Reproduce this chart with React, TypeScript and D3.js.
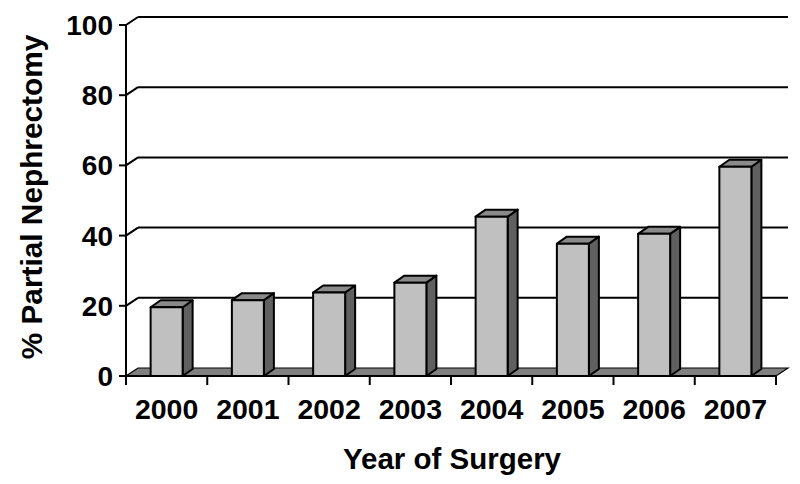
import React from "react";
import * as d3 from "d3";

const years = ["2000", "2001", "2002", "2003", "2004", "2005", "2006", "2007"];
const values = [19.6, 21.6, 23.8, 26.6, 45.4, 37.7, 40.5, 59.6];
const yTicks = [0, 20, 40, 60, 80, 100];

const W = 800;
const H = 484;
const left = 126;
const right = 776;
const top = 25;
const bottom = 376;
const wallDx = 12;
const wallDy = 8;
const barDx = 10;
const barDy = 7;
const barW = 32;
const FONT = "'Liberation Sans', Arial, sans-serif";
const LW = 2;

export default function App() {
  const x = d3.scaleBand<string>().domain(years).range([left, right]).padding(0);
  const y = d3.scaleLinear().domain([0, 100]).range([bottom, top]);
  const bw = x.bandwidth();

  return (
    <svg width={W} height={H} style={{ position: "absolute", left: 0, top: 0, background: "#fff" }}>
      {/* back wall gridlines */}
      {yTicks.filter((t) => t > 0).map((t) => (
        <g key={"g" + t}>
          <line x1={left + wallDx} x2={right + wallDx} y1={y(t) - wallDy} y2={y(t) - wallDy} stroke="#000" strokeWidth={LW} />
          <line x1={left} x2={left + wallDx} y1={y(t)} y2={y(t) - wallDy} stroke="#000" strokeWidth={LW} />
        </g>
      ))}
      {/* floor */}
      <polygon
        points={`${left},${bottom} ${right},${bottom} ${right + wallDx},${bottom - wallDy} ${left + wallDx},${bottom - wallDy}`}
        fill="#808080"
        stroke="#000"
        strokeWidth={1.2}
      />
      {/* y axis */}
      <line x1={left} x2={left} y1={y(100)} y2={y(0)} stroke="#000" strokeWidth={LW} />
      {yTicks.map((t) => (
        <g key={"t" + t}>
          <line x1={left - 7} x2={left} y1={y(t)} y2={y(t)} stroke="#000" strokeWidth={LW} />
          <text x={113} y={y(t) + 10} textAnchor="end" fontFamily={FONT} fontWeight="bold" fontSize={28} fill="#000">
            {t}
          </text>
        </g>
      ))}
      {/* x axis */}
      <line x1={left} x2={right} y1={bottom} y2={bottom} stroke="#000" strokeWidth={LW} />
      {d3.range(years.length + 1).map((i) => (
        <line key={"xt" + i} x1={left + i * bw} x2={left + i * bw} y1={bottom} y2={bottom + 9} stroke="#000" strokeWidth={LW} />
      ))}
      {/* bars */}
      {years.map((yr, i) => {
        const cx = (x(yr) as number) + bw / 2;
        const x0 = cx - barW / 2;
        const x1 = cx + barW / 2;
        const yt = y(values[i]);
        const y0 = y(0);
        return (
          <g key={yr} stroke="#000" strokeWidth={LW} strokeLinejoin="round">
            <polygon points={`${x1},${yt} ${x1 + barDx},${yt - barDy} ${x1 + barDx},${y0 - barDy} ${x1},${y0}`} fill="#606060" />
            <polygon points={`${x0},${yt} ${x1},${yt} ${x1 + barDx},${yt - barDy} ${x0 + barDx},${yt - barDy}`} fill="#8a8a8a" />
            <rect x={x0} y={yt} width={barW} height={y0 - yt} fill="#c0c0c0" />
          </g>
        );
      })}
      {/* x labels */}
      {years.map((yr) => (
        <text key={"l" + yr} x={(x(yr) as number) + bw / 2} y={419} textAnchor="middle" fontFamily={FONT} fontWeight="bold" fontSize={28.5} fill="#000">
          {yr}
        </text>
      ))}
      <text x={(left + right) / 2 + 1} y={469} textAnchor="middle" fontFamily={FONT} fontWeight="bold" fontSize={29.5} fill="#000">
        Year of Surgery
      </text>
      <text transform={`translate(42, 197) rotate(-90)`} textAnchor="middle" fontFamily={FONT} fontWeight="bold" fontSize={29.8} fill="#000">
        % Partial Nephrectomy
      </text>
    </svg>
  );
}
